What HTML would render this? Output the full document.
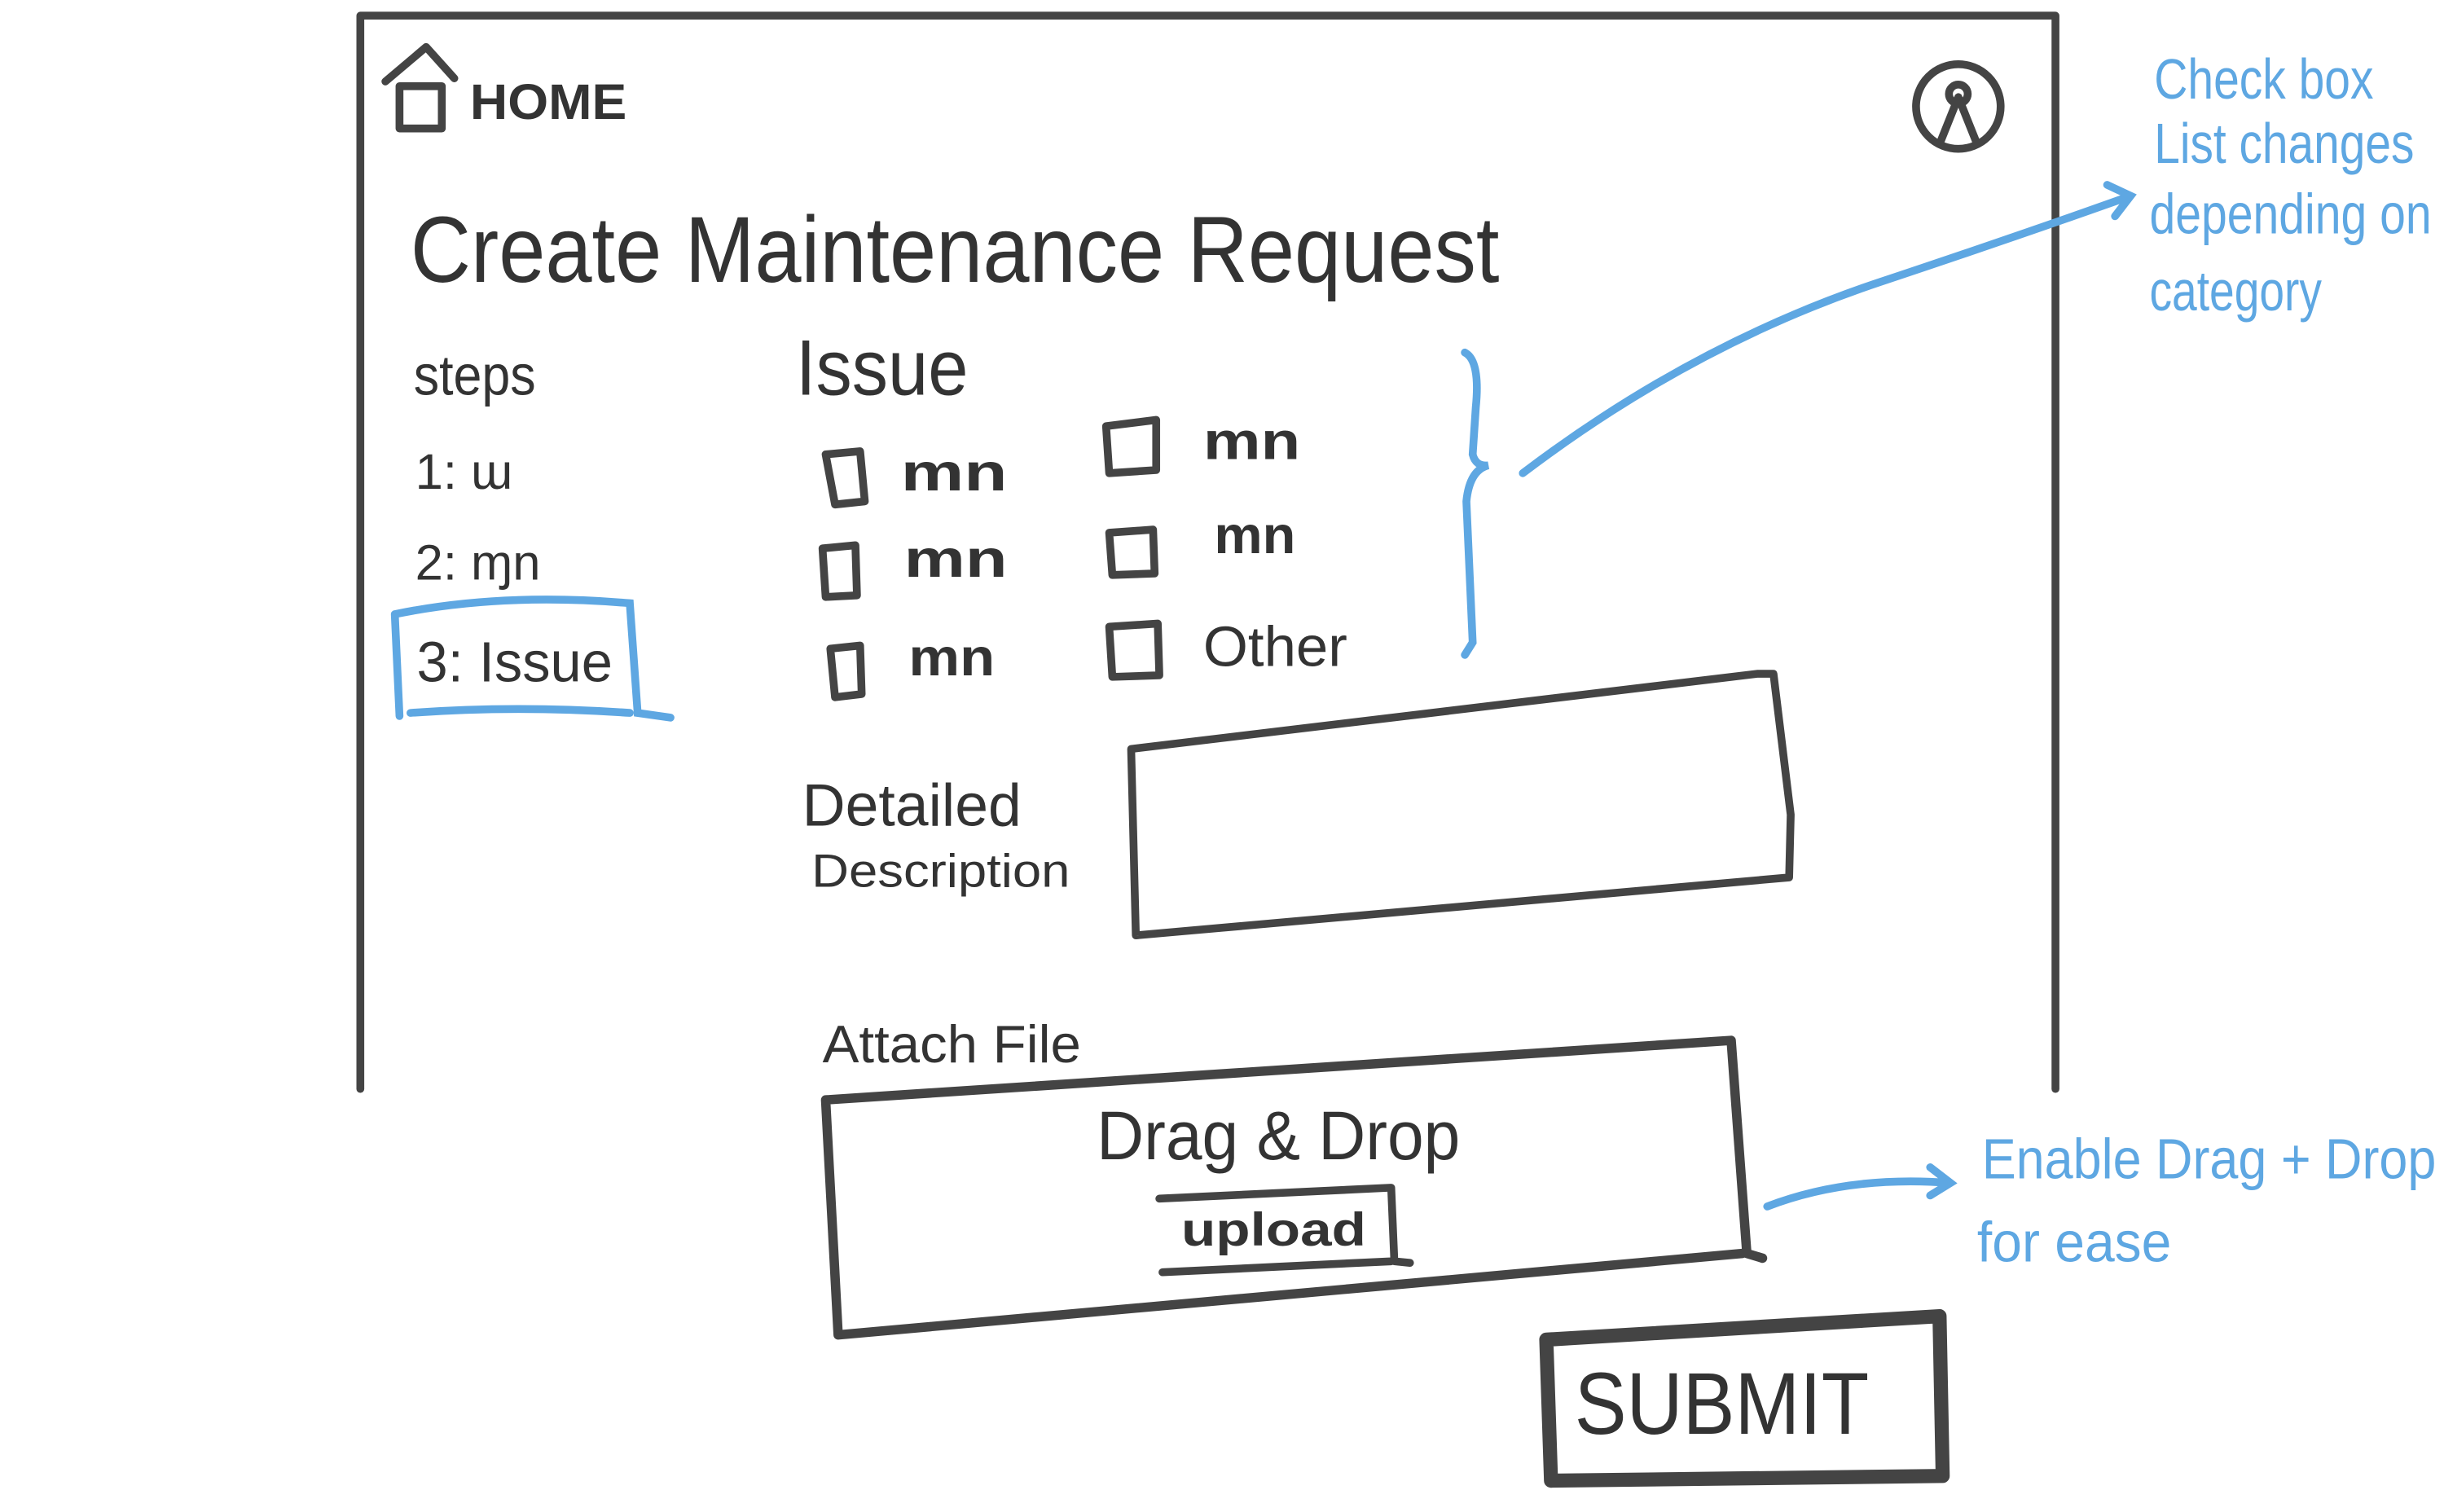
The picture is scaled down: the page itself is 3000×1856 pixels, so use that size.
<!DOCTYPE html>
<html><head><meta charset="utf-8"><style>
html,body{margin:0;padding:0;background:#fff;width:3000px;height:1856px;overflow:hidden}
svg{display:block}
text{font-family:"Liberation Sans",sans-serif}
</style></head><body>
<svg width="3000" height="1856" viewBox="0 0 1560 965" preserveAspectRatio="none" xmlns="http://www.w3.org/2000/svg">
<g fill="none" stroke="#444" stroke-width="5" stroke-linecap="round" stroke-linejoin="round">
<path d="M230 695 L230 10 L1312 10 L1312 695"/>
<path d="M246 52 L272 30 L290 50 M255 55 L255 82 L282 82 L282 55 Z"/>
<circle cx="1250" cy="68" r="27"/>
<path d="M1238 92 L1250 62 L1262 92 M1244 60 a6 6 0 1 0 12 0 a6 6 0 1 0 -12 0"/>
<path d="M527 290 L549 288 L552 320 L533 322 Z"/>
<path d="M525 350 L546 348 L547 380 L527 381 Z"/>
<path d="M530 414 L549 412 L550 443 L533 445 Z"/>
<path d="M706 272 L738 268 L738 300 L708 302 Z"/>
<path d="M708 340 L736 338 L737 366 L710 367 Z"/>
<path d="M708 400 L739 398 L740 431 L710 432 Z"/>
<path d="M722 478 L1122 430 L1132 430 L1143 520 L1142 560 L725 597 Z"/>
<path d="M527 702 L1105 664 L1115 800 L1125 803 M1112 800 L535 852 L527 702" stroke-width="6"/>
<path d="M740 765 L888 758 L890 805 L900 806 M888 805 L742 812 Z"/>
<path d="M987 855 L1238 840 L1240 942 L990 945 Z" stroke-width="9"/>
</g>
<g fill="#333" font-weight="bold">
<text x="300" y="76" font-size="32" textLength="100" lengthAdjust="spacingAndGlyphs">HOME</text>
<text x="262" y="180" font-size="60" font-weight="normal" textLength="695" lengthAdjust="spacingAndGlyphs">Create  Maintenance  Request</text>
<text x="264" y="252" font-size="36" font-weight="normal" textLength="78" lengthAdjust="spacingAndGlyphs">steps</text>
<text x="265" y="312" font-size="32" font-weight="normal">1: ɯ</text>
<text x="265" y="370" font-size="32" font-weight="normal">2: ɱn</text>
<text x="266" y="435" font-size="36" font-weight="normal" textLength="125" lengthAdjust="spacingAndGlyphs">3: Issue</text>
<text x="508" y="252" font-size="50" font-weight="normal" textLength="110" lengthAdjust="spacingAndGlyphs">Issue</text>
<text x="575" y="313" font-size="34" textLength="68" lengthAdjust="spacingAndGlyphs">mn</text>
<text x="577" y="368" font-size="34" textLength="66" lengthAdjust="spacingAndGlyphs">mn</text>
<text x="580" y="431" font-size="34" textLength="55" lengthAdjust="spacingAndGlyphs">mn</text>
<text x="768" y="293" font-size="34" textLength="62" lengthAdjust="spacingAndGlyphs">mn</text>
<text x="775" y="353" font-size="34" textLength="52" lengthAdjust="spacingAndGlyphs">mn</text>
<text x="768" y="425" font-size="36" font-weight="normal" textLength="92" lengthAdjust="spacingAndGlyphs">Other</text>
<text x="512" y="527" font-size="38" font-weight="normal" textLength="140" lengthAdjust="spacingAndGlyphs">Detailed</text>
<text x="518" y="566" font-size="30" font-weight="normal" textLength="165" lengthAdjust="spacingAndGlyphs">Description</text>
<text x="525" y="678" font-size="34" font-weight="normal" textLength="165" lengthAdjust="spacingAndGlyphs">Attach File</text>
<text x="700" y="740" font-size="44" font-weight="normal" textLength="232" lengthAdjust="spacingAndGlyphs">Drag &amp; Drop</text>
<text x="754" y="795" font-size="30" textLength="118" lengthAdjust="spacingAndGlyphs">upload</text>
<text x="1005" y="915" font-size="56" font-weight="normal" textLength="188" lengthAdjust="spacingAndGlyphs">SUBMIT</text>
</g>
<g fill="none" stroke="#5ea7e2" stroke-width="5" stroke-linecap="round">
<path d="M252 392 Q320 378 402 385 L407 455 L428 458 M402 455 Q330 450 262 455 M252 392 L255 457"/>
<path d="M935 225 Q945 230 942 260 L940 290 Q942 298 950 297 Q938 300 936 320 L940 410 L935 418"/>
<path d="M972 302 Q1080 220 1200 180 Q1290 150 1360 125 M1345 118 L1360 125 L1350 138"/>
<path d="M1128 770 Q1180 750 1245 755 M1232 745 L1245 755 L1232 763"/>
</g>
<g fill="#5ea7e2" font-size="36">
<text x="1375" y="63" textLength="140" lengthAdjust="spacingAndGlyphs">Check box</text>
<text x="1375" y="104" textLength="166" lengthAdjust="spacingAndGlyphs">List changes</text>
<text x="1372" y="149" textLength="180" lengthAdjust="spacingAndGlyphs">depending on</text>
<text x="1372" y="198" textLength="110" lengthAdjust="spacingAndGlyphs">category</text>
<text x="1265" y="752" textLength="290" lengthAdjust="spacingAndGlyphs">Enable Drag + Drop</text>
<text x="1262" y="805" textLength="124" lengthAdjust="spacingAndGlyphs">for ease</text>
</g>
</svg>
</body></html>
